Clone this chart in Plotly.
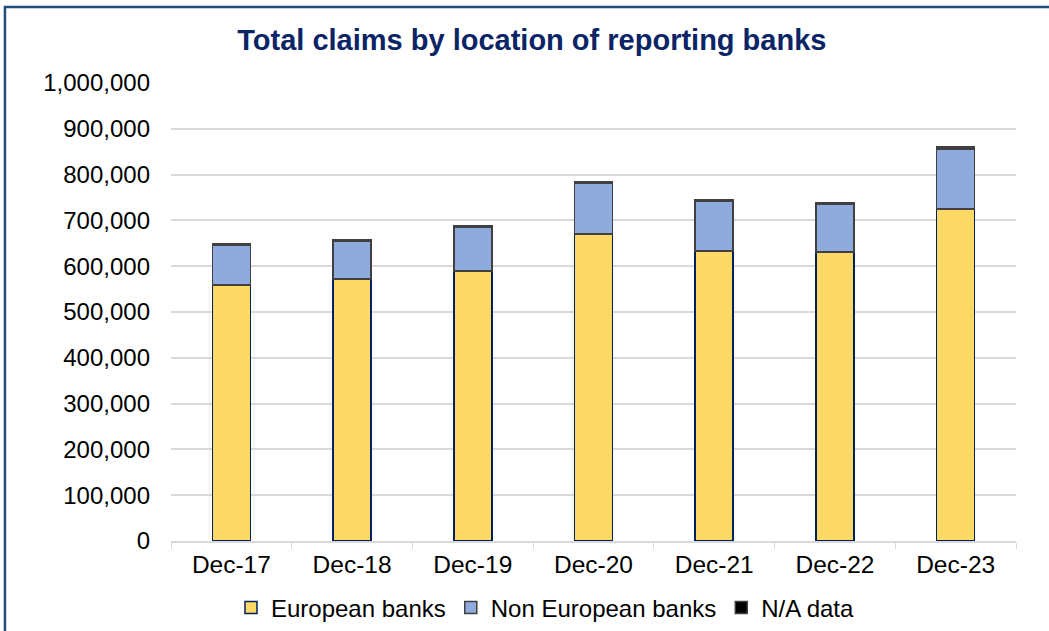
import plotly.graph_objects as go

periods = ["Dec-17", "Dec-18", "Dec-19", "Dec-20", "Dec-21", "Dec-22", "Dec-23"]
european = [559000, 572000, 590000, 670000, 633000, 631000, 725000]
non_european = [86000, 83000, 96000, 111000, 109000, 105000, 131000]
na_data = [3000, 3000, 3000, 3000, 3000, 3000, 4000]

FONT = "Liberation Sans, Arial, sans-serif"

fig = go.Figure()

fig.add_trace(go.Bar(
    x=periods, y=european, name="European banks",
    marker=dict(color="#FFD966", line=dict(color="#002060", width=1.5)),
))
fig.add_trace(go.Bar(
    x=periods, y=non_european, name="Non European banks",
    marker=dict(color="#8FAADC", line=dict(color="#404040", width=1.5)),
))
fig.add_trace(go.Bar(
    x=periods, y=na_data, name="N/A data",
    marker=dict(color="#000000", line=dict(color="#404040", width=1.5)),
))

# outer border of the chart (only top and left are visible in the picture)
fig.add_shape(type="rect", xref="paper", yref="paper",
              x0=-0.1965, x1=1.2, y0=-0.5, y1=1.1659,
              line=dict(color="#1F4E79", width=2.5), fillcolor="rgba(0,0,0,0)")

fig.update_layout(
    width=1049, height=631,
    margin=dict(l=171, r=33, t=83, b=90),
    paper_bgcolor="white", plot_bgcolor="white",
    barmode="stack", bargap=0.685,
    font=dict(family=FONT, size=24, color="#000000"),
    title=dict(
        text="<b>Total claims by location of reporting banks</b>",
        font=dict(family=FONT, size=29, color="#0B2466"),
        x=0.507, xref="container", xanchor="center",
        y=1 - 40 / 631, yref="container", yanchor="middle",
    ),
    legend=dict(
        orientation="h", xref="container", yref="container",
        x=0.52, xanchor="center", y=1 - 608 / 631, yanchor="middle",
        font=dict(family=FONT, size=24, color="#000000"),
        traceorder="normal", itemwidth=30,
    ),
    showlegend=True,
)

fig.update_xaxes(
    showline=True, linecolor="#D9D9D9", linewidth=1.5,
    ticks="outside", tickson="boundaries", ticklen=6, tickcolor="#D9D9D9",
    tickfont=dict(family=FONT, size=24.5), showgrid=False,
    ticklabelstandoff=1, automargin=False,
)
fig.update_yaxes(
    range=[0, 1000000], dtick=100000, tickformat=",",
    showgrid=True, gridcolor="#D9D9D9", gridwidth=1.5,
    zeroline=False, ticks="", ticklabelstandoff=20, automargin=False,
    tickfont=dict(family=FONT, size=24),
)

fig.write_html("out.html", config={"displayModeBar": False},
               post_script="document.body.style.margin='0';")
